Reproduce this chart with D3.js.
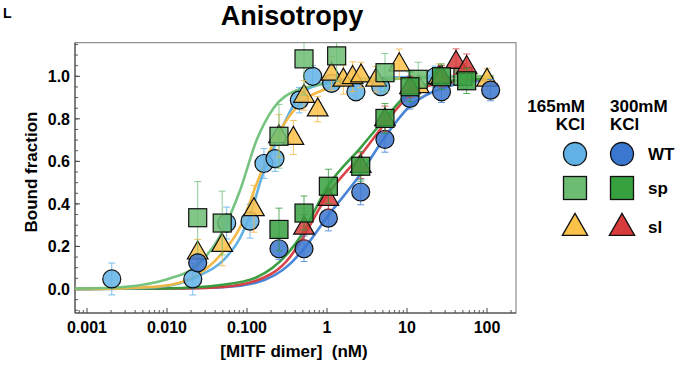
<!DOCTYPE html>
<html><head><meta charset="utf-8">
<script src="https://cdn.jsdelivr.net/npm/d3@7"></script>
<style>body{margin:0;background:#fff}svg{display:block}text{font-family:"Liberation Sans",Arial,sans-serif;font-weight:bold}</style>
</head><body><svg id="c" width="680" height="366"></svg>
<script>
// ---- data ----
const xTicks = [0.001, 0.01, 0.1, 1, 10, 100];
const xTickLabels = ["0.001", "0.010", "0.100", "1", "10", "100"];
const yTicks = [0, 0.2, 0.4, 0.6, 0.8, 1.0];
const yTickLabels = ["0.0", "0.2", "0.4", "0.6", "0.8", "1.0"];

// 165 mM KCl, WT (light blue circles)
const wt165Conc = [0.00204, 0.021, 0.0557, 0.109, 0.163, 0.224, 0.451, 0.662, 1.14, 2.30, 4.69, 22.4];
const wt165Val  = [0.047, 0.047, 0.31, 0.319, 0.59, 0.613, 0.888, 1.0, 0.967, 0.927, 0.951, 0.998];
const wt165Err  = [0.075, 0.075, 0.075, 0.08, 0.07, 0.06, 0.06, 0.05, 0.04, 0.04, 0.04, 0.05];
// 165 mM KCl, sl (yellow triangles)
const sl165Conc = [0.0242, 0.049, 0.122, 0.251, 0.38, 0.516, 0.765, 1.14, 1.6, 2.09, 2.66, 4.1, 8.0, 14.0, 25.0, 100];
const sl165Val  = [0.173, 0.209, 0.377, 0.72, 0.712, 0.91, 0.846, 1.014, 0.986, 0.998, 1.006, 0.986, 1.058, 0.955, 0.998, 0.986];
const sl165Err  = [0.06, 0.10, 0.11, 0.1, 0.08, 0.07, 0.06, 0.08, 0.07, 0.07, 0.06, 0.06, 0.07, 0.05, 0.06, 0.05];
// 165 mM KCl, sp (light green squares)
const sp165Conc = [0.0242, 0.049, 0.251, 0.516, 1.32, 5.31, 13.8, 50];
const sp165Val  = [0.335, 0.31, 0.718, 1.082, 1.096, 1.017, 0.986, 1.0];
const sp165Err  = [0.17, 0.15, 0.15, 0.17, 0.12, 0.09, 0.08, 0.06];
// 300 mM KCl, WT (dark blue circles)
const wt300Conc = [0.0242, 0.251, 0.516, 1.04, 2.64, 5.3, 10.9, 27, 111];
const wt300Val  = [0.123, 0.189, 0.189, 0.333, 0.456, 0.703, 0.896, 0.927, 0.935];
const wt300Err  = [0.04, 0.05, 0.06, 0.06, 0.06, 0.06, 0.05, 0.05, 0.05];
// 300 mM KCl, sl (red triangles)
const sl300Conc = [0.516, 1.04, 2.64, 5.3, 10.9, 27, 41, 55.7];
const sl300Val  = [0.29, 0.425, 0.58, 0.80, 0.95, 1.0, 1.069, 1.045];
const sl300Err  = [0.06, 0.05, 0.06, 0.06, 0.05, 0.05, 0.06, 0.06];
// 300 mM KCl, sp (dark green squares)
const sp300Conc = [0.251, 0.516, 1.04, 2.64, 5.3, 10.9, 27, 55.7];
const sp300Val  = [0.28, 0.357, 0.483, 0.577, 0.802, 0.951, 0.998, 0.979];
const sp300Err  = [0.1, 0.08, 0.08, 0.07, 0.07, 0.07, 0.06, 0.06];

// fitted curves
const wt165FitX = [0.0007, 0.005, 0.012, 0.0242, 0.05, 0.082, 0.109, 0.163, 0.235, 0.418, 0.82, 2, 10, 120];
const wt165FitY = [0.0, 0.005, 0.02, 0.06, 0.133, 0.24, 0.346, 0.558, 0.70, 0.888, 0.965, 0.988, 0.996, 1.0];
const sl165FitX = [0.0007, 0.003, 0.008, 0.02, 0.05, 0.082, 0.132, 0.213, 0.345, 0.5, 0.82, 1.3, 5, 120];
const sl165FitY = [0.0, 0.004, 0.012, 0.05, 0.173, 0.29, 0.495, 0.684, 0.817, 0.885, 0.93, 0.955, 0.985, 1.0];
const sp165FitX = [0.0007, 0.002, 0.005, 0.008, 0.012, 0.02, 0.05, 0.082, 0.132, 0.213, 0.42, 0.82, 2, 10, 120];
const sp165FitY = [0.002, 0.006, 0.02, 0.035, 0.055, 0.09, 0.275, 0.464, 0.70, 0.849, 0.935, 0.96, 0.978, 0.99, 1.0];
const wt300FitX = [0.0007, 0.01, 0.05, 0.132, 0.345, 0.516, 1.04, 2.64, 5.3, 10.9, 27, 120];
const wt300FitY = [0.0, 0.002, 0.008, 0.03, 0.118, 0.19, 0.346, 0.542, 0.715, 0.86, 0.943, 0.985];
const sl300FitX = [0.0007, 0.01, 0.05, 0.132, 0.345, 0.46, 1.04, 2.64, 5.3, 10.9, 27, 120];
const sl300FitY = [0.0, 0.002, 0.01, 0.04, 0.15, 0.22, 0.448, 0.63, 0.778, 0.912, 0.97, 0.99];
const sp300FitX = [0.0007, 0.01, 0.05, 0.132, 0.345, 0.46, 1.04, 2.64, 5.3, 10.9, 27, 120];
const sp300FitY = [0.0, 0.003, 0.02, 0.055, 0.18, 0.243, 0.487, 0.665, 0.80, 0.927, 0.976, 0.99];

const legendCols = ["165mM\nKCl", "300mM\nKCl"];
const legendRows = ["WT", "sp", "sl"];

// ---- styles ----
const C = {
  wt165: {fill: "#62b1e6", line: "#5aaee6", shape: "circle"},
  sl165: {fill: "#fbc24a", line: "#f3b63d", shape: "triangle"},
  sp165: {fill: "#6cbd72", line: "#6fc17a", shape: "square"},
  wt300: {fill: "#3b76cf", line: "#3f7fd8", shape: "circle"},
  sl300: {fill: "#d83b3b", line: "#d8393d", shape: "triangle"},
  sp300: {fill: "#37a03f", line: "#2f9a38", shape: "square"}
};

const svg = d3.select("#c");
const L = 75, R = 516, T = 42.7, B = 313;
const x = d3.scaleLog().domain([Math.pow(10, -3.15), Math.pow(10, 2.3625)]).range([L, R]);
const y = d3.scaleLinear().domain([-0.113, 1.158]).range([B, T]);

svg.append("text").attr("x", 3).attr("y", 18).attr("font-size", 14).text("L");
svg.append("text").attr("x", 292).attr("y", 25).attr("font-size", 27).attr("text-anchor", "middle").text("Anisotropy");

// frame
svg.append("rect").attr("x", L).attr("y", T).attr("width", R - L).attr("height", B - T)
  .attr("fill", "none").attr("stroke", "#777").attr("stroke-width", 1);

// y axis
const yMinor = d3.range(-0.1, 1.151, 0.05);
const gy = svg.append("g").attr("transform", `translate(${L},0)`);
gy.selectAll("line.mi").data(yMinor).join("line")
  .attr("x1", 0).attr("x2", 3).attr("y1", d => y(d)).attr("y2", d => y(d)).attr("stroke", "#555");
gy.selectAll("line.ma").data(yTicks).join("line")
  .attr("x1", 0).attr("x2", 5).attr("y1", d => y(d)).attr("y2", d => y(d)).attr("stroke", "#444");
gy.selectAll("text").data(yTicks).join("text")
  .attr("x", -5).attr("y", d => y(d)).attr("dy", "0.36em").attr("text-anchor", "end")
  .attr("font-size", 16).text((d, i) => yTickLabels[i]);
gy.append("line").attr("x1", 0).attr("x2", 0).attr("y1", T).attr("y2", B).attr("stroke", "#444");

// x axis
const xMinor = [];
[-4, -3, -2, -1, 0, 1, 2].forEach(e => { for (let k = 2; k <= 9; k++) { const v = k * Math.pow(10, e); if (v > x.domain()[0] && v < x.domain()[1]) xMinor.push(v); } });
const gx = svg.append("g").attr("transform", `translate(0,${B})`);
gx.selectAll("line.mi").data(xMinor).join("line")
  .attr("x1", d => x(d)).attr("x2", d => x(d)).attr("y1", 0).attr("y2", -3).attr("stroke", "#555");
gx.selectAll("line.ma").data(xTicks).join("line")
  .attr("x1", d => x(d)).attr("x2", d => x(d)).attr("y1", 0).attr("y2", -5).attr("stroke", "#444");
gx.selectAll("text").data(xTicks).join("text")
  .attr("x", d => x(d)).attr("y", 20).attr("text-anchor", "middle")
  .attr("font-size", 16).text((d, i) => xTickLabels[i]);
gx.append("line").attr("x1", L).attr("x2", R).attr("y1", 0).attr("y2", 0).attr("stroke", "#444");

svg.append("text").attr("x", 294).attr("y", 357).attr("text-anchor", "middle").attr("font-size", 17)
  .style("white-space", "pre").text("[MITF dimer]  (nM)");
svg.append("text").attr("transform", `translate(37,${y(0.55)}) rotate(-90)`).attr("text-anchor", "middle")
  .attr("font-size", 17).text("Bound fraction");

// clip
svg.append("clipPath").attr("id", "clip").append("rect").attr("x", L).attr("y", T).attr("width", R - L).attr("height", B - T);
const plot = svg.append("g").attr("clip-path", "url(#clip)");

// curves
const line = d3.line().x(d => x(d[0])).y(d => y(d[1])).curve(d3.curveMonotoneX);
const fits = [
  ["wt300", wt300FitX, wt300FitY], ["sl300", sl300FitX, sl300FitY], ["sp300", sp300FitX, sp300FitY],
  ["wt165", wt165FitX, wt165FitY], ["sl165", sl165FitX, sl165FitY], ["sp165", sp165FitX, sp165FitY]
];
fits.forEach(([k, xs, ys]) => {
  plot.append("path").datum(xs.map((v, i) => [v, ys[i]])).attr("d", line)
    .attr("fill", "none").attr("stroke", C[k].line).attr("stroke-width", 2.6).attr("stroke-opacity", 0.95);
});

// markers
function marker(g, shape, cx, cy, s, fill) {
  if (shape === "circle") {
    g.append("circle").attr("cx", cx).attr("cy", cy).attr("r", s * 0.5).attr("fill", fill);
  } else if (shape === "square") {
    g.append("rect").attr("x", cx - s / 2).attr("y", cy - s / 2).attr("width", s).attr("height", s).attr("fill", fill);
  } else {
    const w = s * 1.15, h = s * 1.0;
    g.append("path").attr("d", `M${cx},${cy - h * 0.62}L${cx + w / 2},${cy + h * 0.38}L${cx - w / 2},${cy + h * 0.38}Z`).attr("fill", fill);
  }
}
const series = [
  ["wt165", wt165Conc, wt165Val, wt165Err], ["sl165", sl165Conc, sl165Val, sl165Err], ["sp165", sp165Conc, sp165Val, sp165Err],
  ["wt300", wt300Conc, wt300Val, wt300Err], ["sl300", sl300Conc, sl300Val, sl300Err], ["sp300", sp300Conc, sp300Val, sp300Err]
];
series.forEach(([k, xs, vs, es]) => {
  const g = plot.append("g");
  xs.forEach((c, i) => {
    const px = x(c), py = y(vs[i]), e1 = y(vs[i] + es[i]), e0 = y(vs[i] - es[i]);
    const eb = g.append("g").attr("stroke", C[k].line).attr("stroke-width", 1).attr("stroke-opacity", 0.8);
    eb.append("line").attr("x1", px).attr("x2", px).attr("y1", e0).attr("y2", e1);
    eb.append("line").attr("x1", px - 3.5).attr("x2", px + 3.5).attr("y1", e0).attr("y2", e0);
    eb.append("line").attr("x1", px - 3.5).attr("x2", px + 3.5).attr("y1", e1).attr("y2", e1);
  });
  const mg = g.append("g").attr("stroke", "#111").attr("stroke-width", 1.2).attr("fill-opacity", 0.85);
  xs.forEach((c, i) => marker(mg, C[k].shape, x(c), y(vs[i]), 18, C[k].fill));
});

// legend
const lg = svg.append("g");
const colX = [575, 622];
legendCols.forEach((t, j) => {
  const parts = t.split("\n");
  parts.forEach((p, r) => {
    lg.append("text").attr("x", j === 0 ? 585 : 610).attr("y", 112 + r * 18)
      .attr("text-anchor", j === 0 ? "end" : "start").attr("font-size", 17).text(p);
  });
});
const legKeys = [["wt165", "wt300"], ["sp165", "sp300"], ["sl165", "sl300"]];
const rowY = [154, 188, 227];
legendRows.forEach((lab, r) => {
  const g = lg.append("g").attr("stroke", "#111").attr("stroke-width", 1.3);
  legKeys[r].forEach((k, j) => marker(g, C[k].shape, colX[j], rowY[r], r === 2 ? 22 : 23, C[k].fill));
  lg.append("text").attr("x", 648).attr("y", rowY[r]).attr("dy", "0.36em").attr("font-size", 17).text(lab);
});
</script></body></html>
